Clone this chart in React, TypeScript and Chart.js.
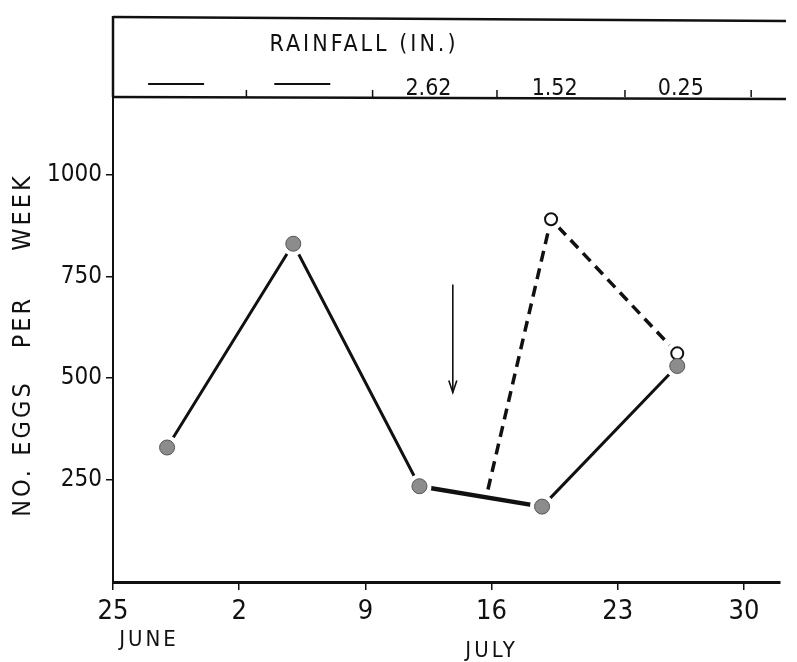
import React, { useEffect, useRef } from "react";
import { Chart, registerables } from "chart.js";

Chart.register(...registerables);

// ---- data ----
const weekDays = [0, 7, 14, 21, 28, 35];
const weekLabels = ["25", "2", "9", "16", "23", "30"];
const monthLabels = ["JUNE", "JULY"];
const monthDays = [2, 21];
const yTicks = [250, 500, 750, 1000];
const eggDays = [3, 10, 17, 23.8, 31.3];
const eggCounts = [330, 830, 235, 185, 530];
const dashedDays = [20.8, 24.3, 31.3];
const dashedCounts = [227, 890, 561];
const rainfallDays = [3.5, 10.5, 17.5, 24.5, 31.5];
const rainfallValues: (string | null)[] = [null, null, "2.62", "1.52", "0.25"];
const rainfallTickDays = [7.4, 14.4, 21.3, 28.4, 35.4];
const arrowDay = 18.85;
const arrowFrom = 730;
const arrowTo = 465;
const yTitleWords = ["NO.", "EGGS", "PER", "WEEK"];

const FONT = "'Liberation Sans Narrow', 'DejaVu Sans Condensed', 'Liberation Sans', sans-serif";
const INK = "#111";

const overlay = {
  id: "overlay",
  afterDraw(chart: any) {
    const { ctx, chartArea: ca, scales } = chart;
    const x = scales.x;
    const y = scales.y;
    ctx.save();
    ctx.strokeStyle = INK;
    ctx.fillStyle = INK;
    ctx.lineCap = "butt";

    // top panel frame
    const topY = 17;
    ctx.lineWidth = 2.5;
    ctx.beginPath();
    ctx.moveTo(ca.left, topY);
    ctx.lineTo(ca.right + 6, topY + 4);
    ctx.stroke();
    ctx.beginPath();
    ctx.moveTo(ca.left, ca.top);
    ctx.lineTo(ca.right + 6, ca.top + 2);
    ctx.stroke();
    ctx.beginPath();
    ctx.moveTo(ca.left, topY - 1);
    ctx.lineTo(ca.left, ca.top);
    ctx.stroke();

    // rainfall ticks
    ctx.lineWidth = 1.5;
    rainfallTickDays.forEach((d) => {
      const px = x.getPixelForValue(d);
      ctx.beginPath();
      ctx.moveTo(px, ca.top);
      ctx.lineTo(px, ca.top - 7);
      ctx.stroke();
    });

    // rainfall title
    ctx.font = `23px ${FONT}`;
    (ctx as any).letterSpacing = "3px";
    ctx.textAlign = "center";
    ctx.textBaseline = "middle";
    ctx.fillText("RAINFALL (IN.)", 364, 45);

    // rainfall values
    ctx.font = `23px ${FONT}`;
    (ctx as any).letterSpacing = "0px";
    rainfallDays.forEach((d, i) => {
      const px = x.getPixelForValue(d);
      const v = rainfallValues[i];
      if (v === null) {
        ctx.lineWidth = 2;
        ctx.beginPath();
        ctx.moveTo(px - 28, ca.top - 13);
        ctx.lineTo(px + 28, ca.top - 13);
        ctx.stroke();
      } else {
        ctx.fillText(v, px, ca.top - 8);
      }
    });

    // y title words (rotated)
    const wordY = [492, 418, 322, 212];
    ctx.font = `25px ${FONT}`;
    (ctx as any).letterSpacing = "3px";
    yTitleWords.forEach((w, i) => {
      ctx.save();
      ctx.translate(23, wordY[i]);
      ctx.rotate(-Math.PI / 2);
      ctx.fillText(w, 0, 0);
      ctx.restore();
    });

    // month labels
    ctx.font = `22px ${FONT}`;
    ctx.fillText(monthLabels[0], x.getPixelForValue(monthDays[0]), 640);
    ctx.fillText(monthLabels[1], x.getPixelForValue(monthDays[1]), 651);
    (ctx as any).letterSpacing = "0px";

    // arrow
    const ax = x.getPixelForValue(arrowDay);
    const ay0 = y.getPixelForValue(arrowFrom);
    const ay1 = y.getPixelForValue(arrowTo);
    ctx.lineWidth = 1.6;
    ctx.beginPath();
    ctx.moveTo(ax, ay0);
    ctx.lineTo(ax, ay1);
    ctx.stroke();
    ctx.beginPath();
    ctx.moveTo(ax - 4, ay1 - 12);
    ctx.lineTo(ax, ay1);
    ctx.lineTo(ax + 4, ay1 - 12);
    ctx.stroke();

    ctx.restore();
  },
};

export default function App() {
  const ref = useRef<HTMLCanvasElement | null>(null);
  useEffect(() => {
    if (!ref.current) return;
    const solid = eggDays.map((d, i) => ({ x: d, y: eggCounts[i] }));
    const dashed = dashedDays.map((d, i) => ({ x: d, y: dashedCounts[i] }));
    const chart = new Chart(ref.current, {
      type: "scatter",
      data: {
        datasets: [
          {
            label: "eggs markers",
            data: solid,
            showLine: false,
            pointRadius: 7.5,
            pointBackgroundColor: "#8c8c8c",
            pointBorderColor: "#555",
            pointBorderWidth: 1,
            order: 0,
          },
          {
            label: "open markers",
            data: dashed.slice(1),
            showLine: false,
            pointRadius: 6,
            pointBackgroundColor: "#fff",
            pointBorderColor: INK,
            pointBorderWidth: 2,
            order: 1,
          },
          {
            label: "dashed",
            data: dashed,
            showLine: true,
            borderColor: INK,
            borderWidth: 3.5,
            borderDash: [11, 7],
            pointRadius: [0, 9, 9],
            pointBackgroundColor: "#fff",
            pointBorderColor: "#fff",
            pointBorderWidth: 5,
            order: 2,
          },
          {
            label: "eggs",
            data: solid,
            showLine: true,
            borderColor: INK,
            borderWidth: 3,
            segment: {
              borderWidth: (c: any) => (c.p0DataIndex === 2 ? 4.5 : 3),
            },
            pointRadius: 9.5,
            pointBackgroundColor: "#fff",
            pointBorderColor: "#fff",
            pointBorderWidth: 5,
            order: 3,
          },
        ],
      },
      options: {
        responsive: false,
        animation: false,
        events: [],
        layout: { padding: { left: 0, top: 97, right: 17, bottom: 0 } },
        plugins: { legend: { display: false }, tooltip: { enabled: false } },
        scales: {
          x: {
            type: "linear",
            min: 0,
            max: 37,
            afterBuildTicks: (s: any) => {
              s.ticks = weekDays.map((v) => ({ value: v }));
            },
            afterFit: (s: any) => {
              s.height = 80;
            },
            ticks: {
              color: INK,
              font: { family: FONT, size: 27 },
              padding: 6,
              maxRotation: 0,
              autoSkip: false,
              callback: (v: any) => {
                const i = weekDays.indexOf(Number(v));
                return i >= 0 ? weekLabels[i] : "";
              },
            },
            grid: { drawOnChartArea: false, drawTicks: true, tickLength: 8, color: INK, lineWidth: 1.5 },
            border: { display: true, color: INK, width: 3 },
          },
          y: {
            type: "linear",
            min: 0,
            max: 1190,
            afterBuildTicks: (s: any) => {
              s.ticks = yTicks.map((v) => ({ value: v }));
            },
            afterFit: (s: any) => {
              s.width = 113;
            },
            ticks: {
              color: INK,
              font: { family: FONT, size: 24 },
              padding: 4,
              autoSkip: false,
              callback: (v: any) => String(v),
            },
            grid: { drawOnChartArea: false, drawTicks: true, tickLength: 7, color: INK, lineWidth: 1.5 },
            border: { display: true, color: INK, width: 2 },
          },
        },
      },
      plugins: [overlay],
    } as any);
    return () => chart.destroy();
  }, []);
  return (
    <div style={{ position: "absolute", left: 0, top: 0, width: 797, height: 662, background: "#fff" }}>
      <canvas ref={ref} width={797} height={662} style={{ display: "block" }} />
    </div>
  );
}
